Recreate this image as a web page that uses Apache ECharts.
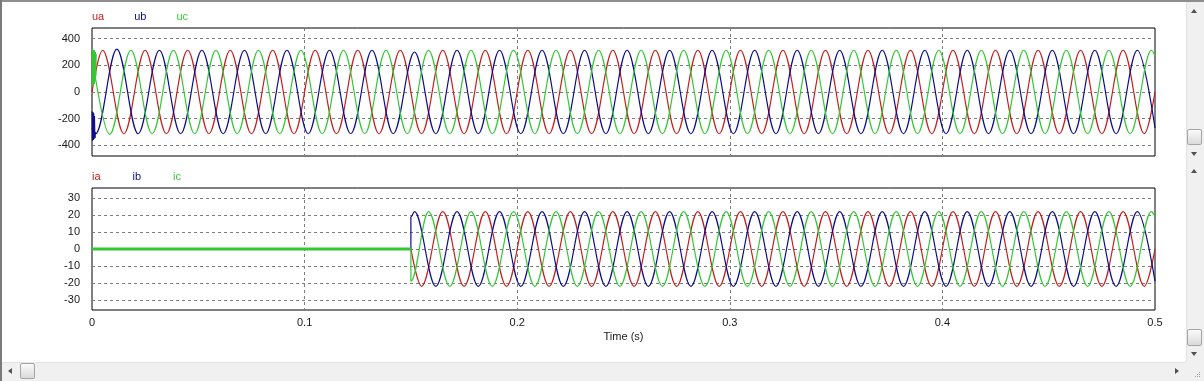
<!DOCTYPE html>
<html>
<head>
<meta charset="utf-8">
<script src="https://cdn.jsdelivr.net/npm/echarts@6.0.0/dist/echarts.min.js"></script>
<style>
html,body{margin:0;padding:0;background:#fff;width:1204px;height:381px;overflow:hidden;}
#chart{position:absolute;left:0;top:0;width:1204px;height:381px;}
.c{position:absolute;}
.topb{left:0;top:0;width:1204px;height:2px;background:#8e8e8e;}
.leftb{left:0;top:0;width:2px;height:381px;background:#7a7a7a;}
.vsb{left:1186px;width:18px;background:#f0f0f0;border-left:1px solid #e2e2e2;box-sizing:border-box;}
.hsb{left:2px;top:362px;width:1184px;height:19px;background:#f0f0f0;border-top:1px solid #e2e2e2;box-sizing:border-box;}
.corner{left:1186px;top:362px;width:18px;height:19px;background:#f0f0f0;}
.thumb{border:1px solid #a6a6a6;border-radius:2px;background:linear-gradient(#fafafa,#dadada);box-sizing:border-box;}
.up{width:0;height:0;border-left:3.5px solid transparent;border-right:3.5px solid transparent;border-bottom:4px solid #505050;}
.down{width:0;height:0;border-left:3.5px solid transparent;border-right:3.5px solid transparent;border-top:4px solid #505050;}
.lft{width:0;height:0;border-top:3.5px solid transparent;border-bottom:3.5px solid transparent;border-right:4px solid #505050;}
.rgt{width:0;height:0;border-top:3.5px solid transparent;border-bottom:3.5px solid transparent;border-left:4px solid #505050;}
.dot{width:1px;height:1px;background:#a0a0a0;}
</style>
</head>
<body>
<div id="chart"></div>
<div class="c topb"></div>
<div class="c leftb"></div>
<div class="c vsb" style="top:2px;height:160px;"></div>
<div class="c vsb" style="top:162px;height:200px;"></div>
<div class="c up" style="left:1191px;top:9px;"></div>
<div class="c thumb" style="left:1187px;top:129px;width:15px;height:16px;"></div>
<div class="c down" style="left:1191px;top:152px;"></div>
<div class="c up" style="left:1191px;top:169px;"></div>
<div class="c thumb" style="left:1187px;top:329px;width:15px;height:17px;"></div>
<div class="c down" style="left:1191px;top:352px;"></div>
<div class="c hsb"></div>
<div class="c lft" style="left:8px;top:368px;"></div>
<div class="c thumb" style="left:20px;top:363px;width:15px;height:16px;"></div>
<div class="c rgt" style="left:1175px;top:368px;"></div>
<div class="c corner"></div>
<div class="c dot" style="left:1199px;top:372px;"></div>
<div class="c dot" style="left:1197px;top:374px;"></div>
<div class="c dot" style="left:1199px;top:374px;"></div>
<div class="c dot" style="left:1195px;top:376px;"></div>
<div class="c dot" style="left:1197px;top:376px;"></div>
<div class="c dot" style="left:1199px;top:376px;"></div>
<script>
// ---------------- data ----------------
// x tick labels (s)
const xTicks = [0, 0.1, 0.2, 0.3, 0.4, 0.5];
// y tick labels
const uTicks = [-400, -200, 0, 200, 400];
const iTicks = [-30, -20, -10, 0, 10, 20, 30];

// times (s) of the extrema of phase a, b, c
const tA = [0.005,0.015,0.025,0.035,0.045,0.055,0.065,0.075,0.085,0.095,
            0.105,0.115,0.125,0.135,0.145,0.155,0.165,0.175,0.185,0.195,
            0.205,0.215,0.225,0.235,0.245,0.255,0.265,0.275,0.285,0.295,
            0.305,0.315,0.325,0.335,0.345,0.355,0.365,0.375,0.385,0.395,
            0.405,0.415,0.425,0.435,0.445,0.455,0.465,0.475,0.485,0.495];
const tB = [0.0017,0.0117,0.0217,0.0317,0.0417,0.0517,0.0617,0.0717,0.0817,0.0917,
            0.1017,0.1117,0.1217,0.1317,0.1417,0.1517,0.1617,0.1717,0.1817,0.1917,
            0.2017,0.2117,0.2217,0.2317,0.2417,0.2517,0.2617,0.2717,0.2817,0.2917,
            0.3017,0.3117,0.3217,0.3317,0.3417,0.3517,0.3617,0.3717,0.3817,0.3917,
            0.4017,0.4117,0.4217,0.4317,0.4417,0.4517,0.4617,0.4717,0.4817,0.4917];
const tC = [0.0083,0.0183,0.0283,0.0383,0.0483,0.0583,0.0683,0.0783,0.0883,0.0983,
            0.1083,0.1183,0.1283,0.1383,0.1483,0.1583,0.1683,0.1783,0.1883,0.1983,
            0.2083,0.2183,0.2283,0.2383,0.2483,0.2583,0.2683,0.2783,0.2883,0.2983,
            0.3083,0.3183,0.3283,0.3383,0.3483,0.3583,0.3683,0.3783,0.3883,0.3983,
            0.4083,0.4183,0.4283,0.4383,0.4483,0.4583,0.4683,0.4783,0.4883,0.4983];

// voltage extrema (V)
const uaV = [313,-313,313,-313,313,-313,313,-313,313,-313,
             313,-313,313,-313,313,-313,313,-313,313,-313,
             313,-313,313,-313,313,-313,313,-313,313,-313,
             313,-313,313,-313,313,-313,313,-313,313,-313,
             313,-313,313,-313,313,-313,313,-313,313,-313];
const ubV = [-313,322,-313,313,-313,313,-313,313,-313,313,
             -313,313,-313,313,-313,300,-313,313,-313,313,
             -313,313,-313,313,-313,313,-313,313,-313,313,
             -313,313,-313,313,-313,313,-313,313,-313,313,
             -313,313,-313,313,-313,313,-313,313,-313,313];
const ucV = [-318,313,-313,313,-313,313,-313,313,-313,313,
             -313,313,-313,313,-313,313,-313,313,-313,313,
             -313,313,-313,313,-313,313,-313,313,-313,313,
             -313,313,-313,313,-313,313,-313,313,-313,313,
             -313,313,-313,313,-313,313,-313,313,-313,313];
// voltages at t = 0 and t = 0.5 (a, b, c)
const uStart = [0, -270, 270];
const uEnd = [0, -270, 270];
// switching transient at t = 0
const ubSpikeT = [0, 0.0002, 0.0004, 0.0006, 0.0008, 0.001, 0.0012, 0.0014, 0.0016];
const ubSpikeV = [-145, -365, -150, -360, -160, -350, -180, -345, -300];
const ucSpikeT = [0, 0.0002, 0.0004, 0.0006, 0.0008, 0.001, 0.0012, 0.0014, 0.0016, 0.0018, 0.002];
const ucSpikeV = [320, 42, 318, 50, 315, 60, 310, 80, 300, 120, 285];

// currents: zero until switching time, then extrema (A)
const tSwitch = 0.15;
const iaV = [-22,22,-22,22,-22,22,-22,22,-22,22,
             -22,22,-22,22,-22,22,-22,22,-22,22,
             -22,22,-22,22,-22,22,-22,22,-22,22,
             -22,22,-22,22,-22];
const ibV = [22,-22,22,-22,22,-22,22,-22,22,-22,
             22,-22,22,-22,22,-22,22,-22,22,-22,
             22,-22,22,-22,22,-22,22,-22,22,-22,
             22,-22,22,-22,22];
const icV = [22,-22,22,-22,22,-22,22,-22,22,-22,
             22,-22,22,-22,22,-22,22,-22,22,-22,
             22,-22,22,-22,22,-22,22,-22,22,-22,
             22,-22,22,-22,22];
// currents right after switching and at t = 0.5 (a, b, c)
const iStart = [0, 19, -19];
const iEnd = [0, -19, 19];

// ---------------- build ----------------
const RED = '#c41e1e', BLUE = '#0c0c8c', GREEN = '#33c833';
const FONT = 'Liberation Sans, Arial, sans-serif';
const LW = 1.2;
const zip = (t, v) => t.map((x, i) => [x, v[i]]);

function uSeries(name, idx, t, v, color) {
  return {
    name, type: 'line', xAxisIndex: 0, yAxisIndex: 0,
    data: [[0, uStart[idx]]].concat(zip(t, v), [[0.5, uEnd[idx]]]),
    smooth: 0.36, smoothMonotone: 'x', showSymbol: false, symbol: 'none',
    lineStyle: { color, width: LW }, itemStyle: { color }, animation: false, silent: true
  };
}
function iSeries(name, idx, t, v, color) {
  const n = v.length;
  const tt = t.slice(t.length - n);
  return {
    name, type: 'line', xAxisIndex: 1, yAxisIndex: 1,
    data: [[tSwitch, 0], [tSwitch, iStart[idx]]].concat(zip(tt, v), [[0.5, iEnd[idx]]]),
    smooth: 0.36, smoothMonotone: 'x', showSymbol: false, symbol: 'none',
    lineStyle: { color, width: LW }, itemStyle: { color }, animation: false, silent: true
  };
}
function plain(name, xi, data, color, width) {
  return {
    name, type: 'line', xAxisIndex: xi, yAxisIndex: xi, data,
    showSymbol: false, symbol: 'none',
    lineStyle: { color, width }, itemStyle: { color }, animation: false, silent: true
  };
}

const gridColors = (period, offset) => {
  const a = [];
  for (let k = 0; k < period; k++) a.push(k === offset ? '#7d7d7d' : 'rgba(0,0,0,0)');
  return a;
};

function yAxis(gi, min, max, interval, ticks, period, offset) {
  return {
    type: 'value', gridIndex: gi, min, max, interval,
    axisLine: { show: false }, axisTick: { show: false },
    axisLabel: {
      margin: 12, color: '#1a1a1a', fontSize: 11, fontFamily: FONT,
      formatter: v => ticks.indexOf(Math.round(v)) >= 0 ? String(Math.round(v)) : ''
    },
    splitLine: { show: true, lineStyle: { color: gridColors(period, offset), type: [3, 3], width: 1 } }
  };
}
function xAxis(gi, showLabels) {
  return {
    type: 'value', gridIndex: gi, min: xTicks[0], max: xTicks[xTicks.length - 1], interval: 0.1,
    axisLine: { show: false }, axisTick: { show: false },
    axisLabel: {
      show: showLabels, margin: 7, color: '#1a1a1a', fontSize: 11, fontFamily: FONT,
      formatter: v => String(+v.toFixed(1))
    },
    splitLine: { show: true, lineStyle: {
      color: ['rgba(0,0,0,0)', '#7d7d7d', '#7d7d7d', '#7d7d7d', '#7d7d7d', 'rgba(0,0,0,0)'],
      type: [3, 3], width: 1 } },
    name: showLabels ? 'Time (s)' : '', nameLocation: 'middle', nameGap: 21,
    nameTextStyle: { color: '#1a1a1a', fontSize: 11, fontFamily: FONT }
  };
}

const legendBase = {
  orient: 'horizontal', left: 87, itemWidth: 0, itemHeight: 0, itemGap: 25,
  icon: 'rect', selectedMode: false, padding: 0,
  textStyle: { fontSize: 11, fontFamily: FONT }
};

const option = {
  backgroundColor: '#ffffff',
  animation: false,
  legend: [
    Object.assign({}, legendBase, { top: 11, data: [
      { name: 'ua', textStyle: { color: RED } },
      { name: 'ub', textStyle: { color: BLUE } },
      { name: 'uc', textStyle: { color: GREEN } }] }),
    Object.assign({}, legendBase, { top: 171, itemGap: 27, data: [
      { name: 'ia', textStyle: { color: RED } },
      { name: 'ib', textStyle: { color: BLUE } },
      { name: 'ic', textStyle: { color: GREEN } }] })
  ],
  grid: [
    { left: 92, top: 28, width: 1063, height: 128, show: true, borderColor: '#000', borderWidth: 1, backgroundColor: 'rgba(0,0,0,0)' },
    { left: 92, top: 188, width: 1063, height: 122, show: true, borderColor: '#000', borderWidth: 1, backgroundColor: 'rgba(0,0,0,0)' }
  ],
  xAxis: [xAxis(0, false), xAxis(1, true)],
  yAxis: [
    yAxis(0, -480, 480, 40, uTicks, 5, 2),
    yAxis(1, -36, 36, 2, iTicks, 5, 3)
  ],
  series: [
    uSeries('ua', 0, tA, uaV, RED),
    uSeries('ub', 1, tB, ubV, BLUE),
    uSeries('uc', 2, tC, ucV, GREEN),
    plain('ub', 0, zip(ubSpikeT, ubSpikeV), BLUE, 1),
    plain('uc', 0, zip(ucSpikeT, ucSpikeV), GREEN, 1),
    iSeries('ia', 0, tA, iaV, RED),
    iSeries('ib', 1, tB, ibV, BLUE),
    iSeries('ic', 2, tC, icV, GREEN),
    plain('ic', 1, [[0, 0], [tSwitch, 0]], GREEN, 3)
  ]
};

const chart = echarts.init(document.getElementById('chart'), null, { renderer: 'canvas' });
chart.setOption(option);
</script>
</body>
</html>
